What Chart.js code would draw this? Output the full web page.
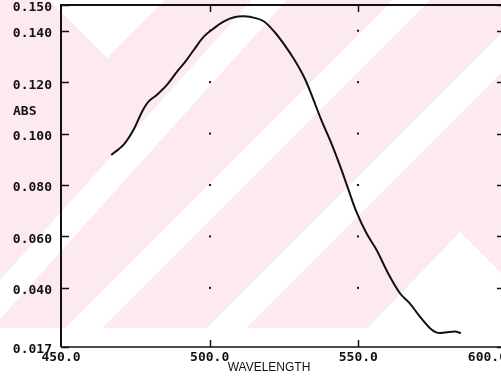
<!DOCTYPE html>
<html lang="en">
<head>
    <meta charset="UTF-8">
    <title>ABS vs WAVELENGTH</title>
    <script src="https://cdn.jsdelivr.net/npm/chart.js@4/dist/chart.umd.min.js"></script>
    <style>
        html, body { margin: 0; padding: 0; overflow: hidden; background: #fff; }
        canvas { display: block; }
    </style>
</head>
<body>
<canvas id="canvas" width="512" height="378"></canvas>
<script>
    // spectrum
    const wavelengths = [466.9, 471.0, 474.4, 477.3, 479.5, 482.3, 485.7, 489.1, 491.9, 494.7,
        498.1, 501.5, 504.8, 508.2, 511.6, 515.5, 518.3, 521.7, 525.1, 528.5,
        531.9, 534.7, 537.5, 540.9, 543.7, 546.5, 549.3, 552.7, 556.1, 560.0,
        564.0, 567.3, 570.7, 574.1, 576.4, 579.2, 582.5, 584.5];
    const absorbance = [0.0917, 0.0956, 0.1015, 0.1086, 0.1125, 0.1151, 0.1190, 0.1242, 0.1281, 0.1326,
        0.1378, 0.1410, 0.1436, 0.1452, 0.1456, 0.1449, 0.1436, 0.1397, 0.1346, 0.1287,
        0.1216, 0.1138, 0.1054, 0.0963, 0.0879, 0.0788, 0.0697, 0.0613, 0.0548, 0.0457,
        0.0379, 0.0340, 0.0288, 0.0243, 0.0226, 0.0226, 0.0230, 0.0224];

    const xTicks = [450, 500, 550, 600];
    const yTicks = [0.017, 0.040, 0.060, 0.080, 0.100, 0.120, 0.140, 0.150];
    const yLabel = 'ABS';
    const yLabelAt = 0.1085;

    const tickFont = {family: '"DejaVu Sans Mono", monospace', size: 13, weight: 'bold'};
    const ink = '#111';

    // pink diagonal watermark behind the scan
    const watermark = {
        id: 'watermark',
        beforeDraw(chart) {
            const ctx = chart.ctx;
            ctx.save();
            ctx.fillStyle = '#fff';
            ctx.fillRect(0, 0, chart.width, chart.height);
            ctx.beginPath();
            ctx.rect(0, 0, chart.width, 328);
            ctx.clip();
            ctx.fillStyle = '#fdeaee';
            ctx.fillRect(0, 0, chart.width, 328);
            ctx.fillStyle = '#fff';
            // bands running up to the right: [x at top, x at y=400]
            [[252, 287, -108, -73], [393, 430, -7, 30], [535, 574, 135, 174]].forEach(([a, b, c, d]) => {
                ctx.beginPath();
                ctx.moveTo(a, 0);
                ctx.lineTo(b, 0);
                ctx.lineTo(d, 400);
                ctx.lineTo(c, 400);
                ctx.closePath();
                ctx.fill();
            });
            // top chevron
            ctx.beginPath();
            ctx.moveTo(49, 0);
            ctx.lineTo(165, 0);
            ctx.lineTo(107, 58);
            ctx.closePath();
            ctx.fill();
            // bottom right chevron
            ctx.beginPath();
            ctx.moveTo(460, 232);
            ctx.lineTo(560, 332);
            ctx.lineTo(364, 332);
            ctx.closePath();
            ctx.fill();
            ctx.restore();
        }
    };

    // plotter frame: borders, inward ticks, dot grid, ABS label
    const frame = {
        id: 'frame',
        beforeDatasetsDraw(chart) {
            const {ctx, chartArea: a, scales: {x, y}} = chart;
            ctx.save();
            ctx.strokeStyle = ink;
            ctx.fillStyle = ink;
            ctx.lineWidth = 2;
            ctx.beginPath();
            ctx.moveTo(a.left, a.bottom);
            ctx.lineTo(a.left, a.top);
            ctx.lineTo(a.right, a.top);
            ctx.lineTo(a.right, a.bottom);
            ctx.stroke();
            ctx.lineWidth = 1.5;
            ctx.beginPath();
            ctx.moveTo(a.left, a.bottom);
            ctx.lineTo(a.right, a.bottom);
            ctx.stroke();

            yTicks.forEach(v => {
                const py = Math.round(y.getPixelForValue(v)) + 0.5;
                ctx.beginPath();
                ctx.moveTo(a.left, py);
                ctx.lineTo(a.left + 8, py);
                ctx.moveTo(a.right - 10, py);
                ctx.lineTo(a.right, py);
                ctx.stroke();
            });
            xTicks.slice(1, -1).forEach(v => {
                const px = Math.round(x.getPixelForValue(v)) + 0.5;
                ctx.beginPath();
                ctx.moveTo(px, a.top);
                ctx.lineTo(px, a.top + 7);
                ctx.moveTo(px, a.bottom - 7);
                ctx.lineTo(px, a.bottom);
                ctx.stroke();
                yTicks.slice(1, -1).forEach(v2 => {
                    const py = y.getPixelForValue(v2);
                    ctx.fillRect(px - 1.5, py - 1, 2, 2);
                });
            });

            ctx.font = 'bold 13px "DejaVu Sans Mono", monospace';
            ctx.textAlign = 'left';
            ctx.textBaseline = 'middle';
            ctx.fillText(yLabel, 13, y.getPixelForValue(yLabelAt));
            ctx.restore();
        }
    };

    const chart = new Chart('canvas', {
        type: 'line',
        data: {
            datasets: [{
                label: 'ABS',
                data: wavelengths.map((w, i) => ({x: w, y: absorbance[i]})),
                borderColor: ink,
                borderWidth: 2,
                pointRadius: 0,
                tension: 0.35,
                fill: false
            }]
        },
        options: {
            responsive: false,
            animation: false,
            layout: {padding: {top: 5, right: 5, left: 0, bottom: 0}},
            plugins: {
                legend: {display: false},
                tooltip: {enabled: false}
            },
            scales: {
                x: {
                    type: 'linear',
                    min: 450,
                    max: 600,
                    afterBuildTicks: s => { s.ticks = xTicks.map(v => ({value: v})); },
                    afterFit: s => { s.height = 31; s.paddingLeft = 0; s.paddingRight = 0; },
                    grid: {display: false, drawTicks: false, tickLength: 0},
                    border: {display: false},
                    ticks: {
                        font: tickFont,
                        color: ink,
                        padding: 3,
                        maxRotation: 0,
                        autoSkip: false,
                        // the plotter pulled the last label in from the page edge
                        callback: v => v === 600 ? v.toFixed(1) + '     ' : v.toFixed(1)
                    },
                    title: {
                        display: true,
                        // trailing blanks nudge the title left like on the plot
                        text: 'WAVELENGTH         ',
                        color: ink,
                        font: {family: '"Liberation Sans", Arial, sans-serif', size: 12},
                        padding: {top: 0, bottom: 3}
                    }
                },
                y: {
                    min: 0.017,
                    max: 0.150,
                    afterBuildTicks: s => { s.ticks = yTicks.map(v => ({value: v})); },
                    afterFit: s => { s.width = 61; s.paddingTop = 0; s.paddingBottom = 0; },
                    grid: {display: false, drawTicks: false, tickLength: 0},
                    border: {display: false},
                    ticks: {
                        font: tickFont,
                        color: ink,
                        padding: 9,
                        labelOffset: 3,
                        autoSkip: false,
                        callback: v => v.toFixed(3)
                    }
                }
            }
        },
        plugins: [watermark, frame]
    });
</script>
</body>
</html>
